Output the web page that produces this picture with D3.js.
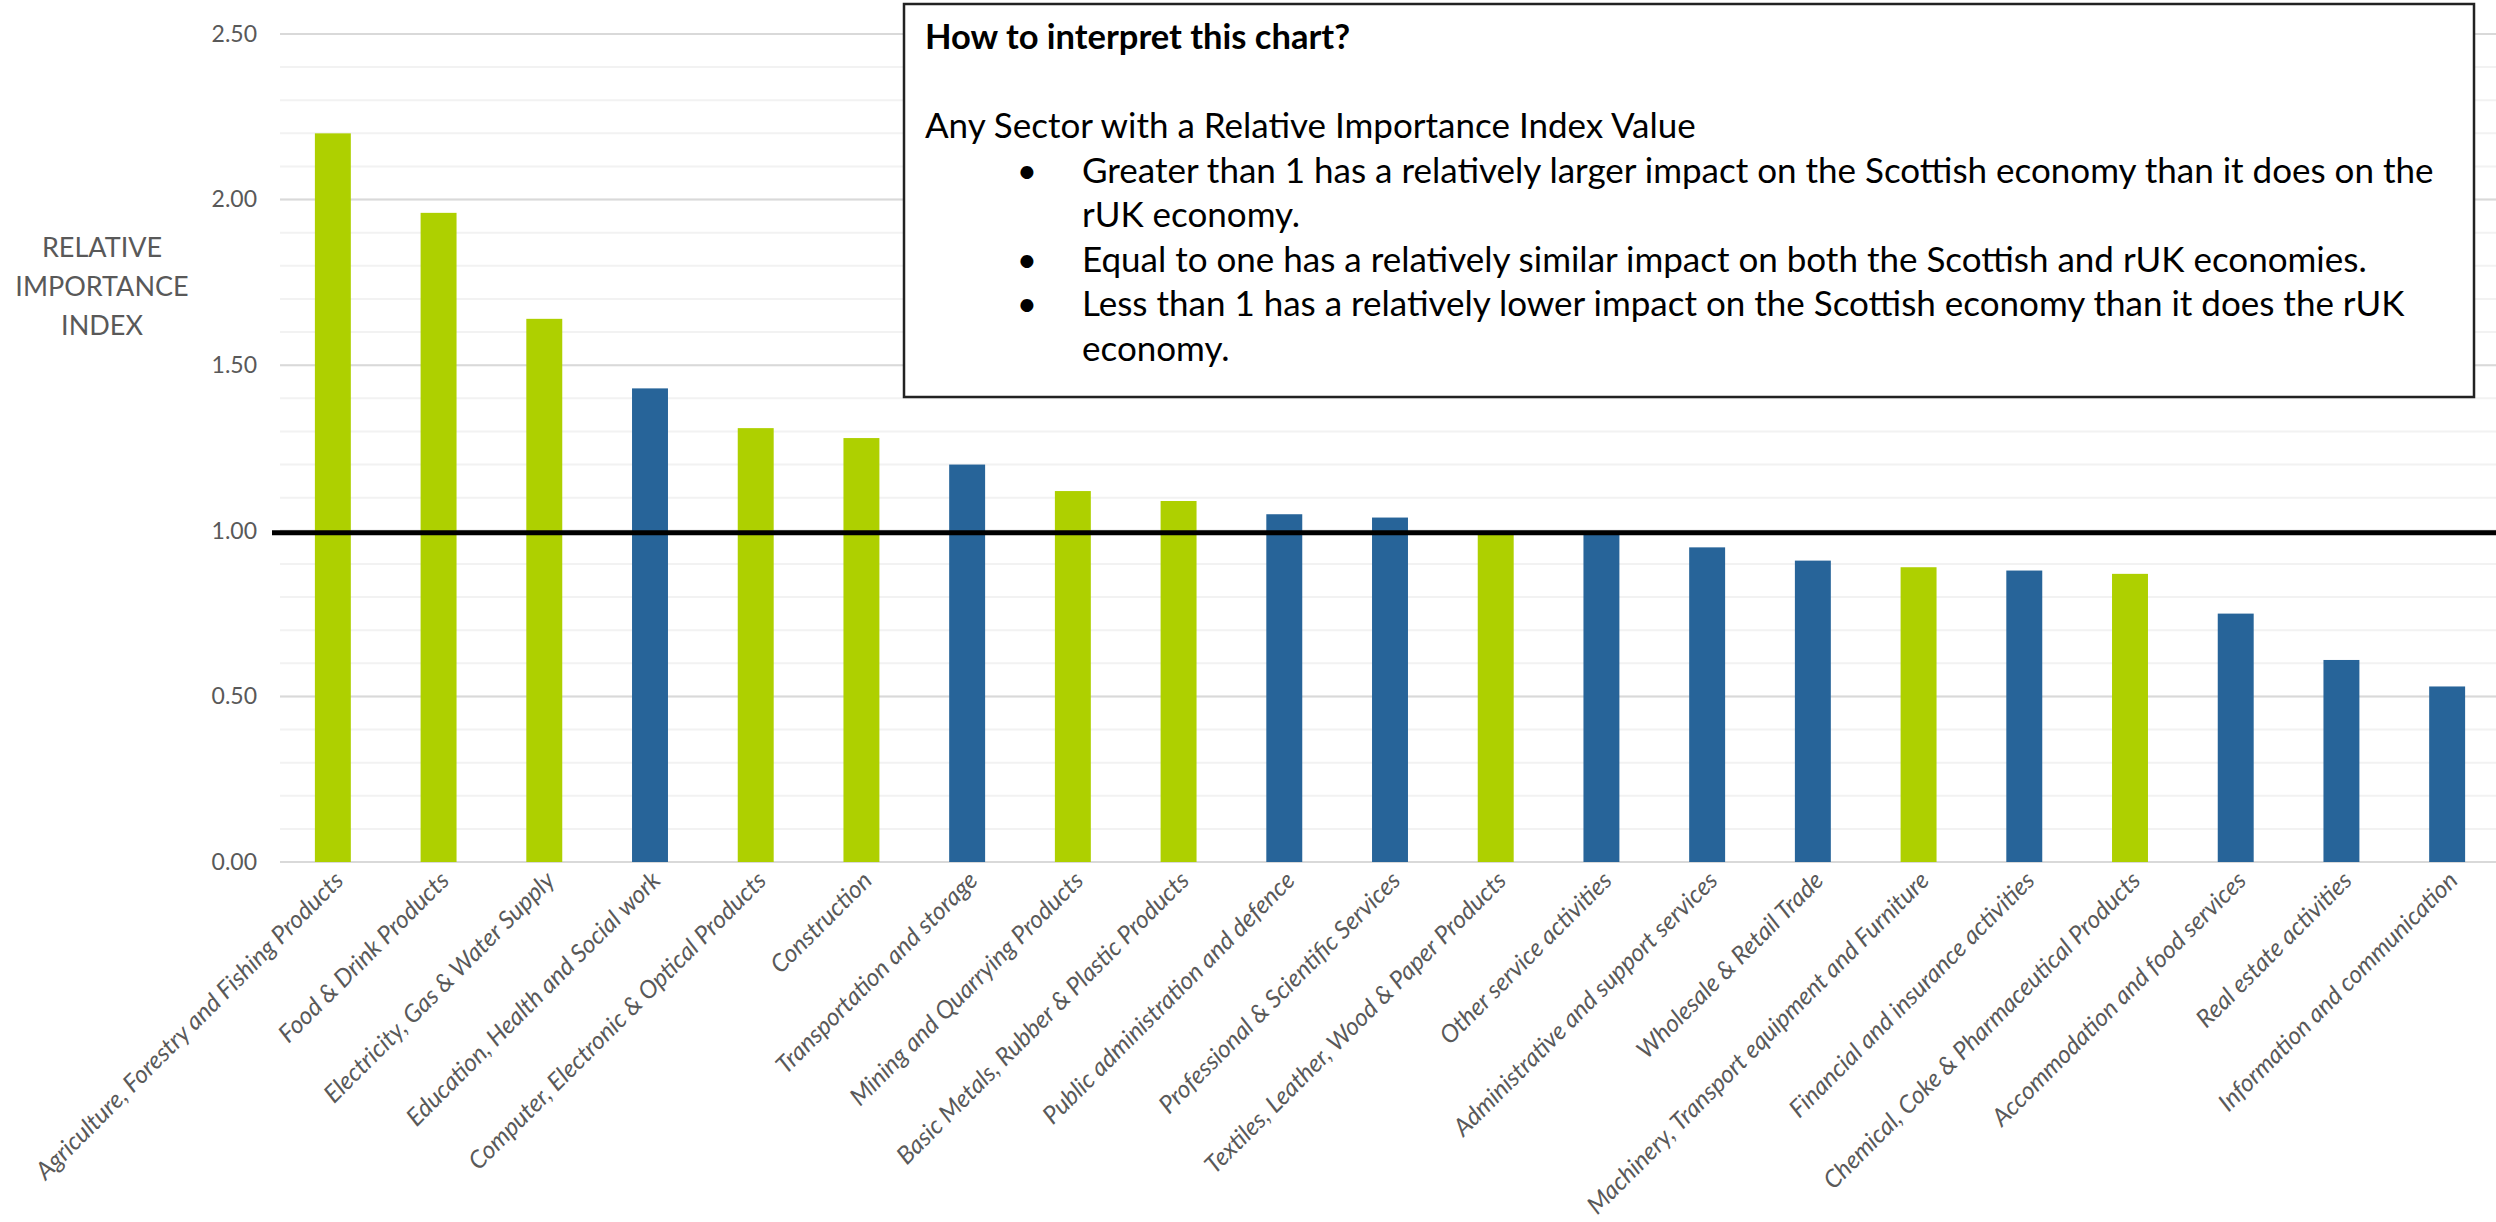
<!DOCTYPE html>
<html>
<head>
<meta charset="utf-8">
<script src="https://cdn.jsdelivr.net/npm/d3@7"></script>
<style>
  body { margin: 0; background: #fff; }
  text { font-family: Lato, "Open Sans", sans-serif; }
</style>
</head>
<body>
<div id="chart"></div>
<script>
// sectors, in the order they are shown
var categories = [
  "Agriculture, Forestry and Fishing Products",
  "Food & Drink Products",
  "Electricity, Gas & Water Supply",
  "Education, Health and Social work",
  "Computer, Electronic & Optical Products",
  "Construction",
  "Transportation and storage",
  "Mining and Quarrying Products",
  "Basic Metals, Rubber & Plastic Products",
  "Public administration and defence",
  "Professional & Scientific Services",
  "Textiles, Leather, Wood & Paper Products",
  "Other service activities",
  "Administrative and support services",
  "Wholesale & Retail Trade",
  "Machinery, Transport equipment and Furniture",
  "Financial and insurance activities",
  "Chemical, Coke & Pharmaceutical Products",
  "Accommodation and food services",
  "Real estate activities",
  "Information and communication"
];

// relative importance index
var values = [2.20, 1.96, 1.64, 1.43, 1.31, 1.28, 1.20, 1.12, 1.09, 1.05, 1.04,
  0.99, 0.99, 0.95, 0.91, 0.89, 0.88, 0.87, 0.75, 0.61, 0.53];

// P = production sector (green), S = service sector (blue)
var sectorType = ["P", "P", "P", "S", "P", "P", "S", "P", "P", "S", "S",
  "P", "S", "S", "S", "P", "S", "P", "S", "S", "S"];

var yTicks = [0, 0.5, 1, 1.5, 2, 2.5];
var referenceValue = 1;

var axisTitle = ["RELATIVE", "IMPORTANCE", "INDEX"];

var noteLines = [
  { text: "How to interpret this chart?", bold: true },
  { text: "" },
  { text: "Any Sector with a Relative Importance Index Value" },
  { text: "Greater than 1 has a relatively larger impact on the Scottish economy than it does on the", bullet: true },
  { text: "rUK economy.", indent: true },
  { text: "Equal to one has a relatively similar impact on both the Scottish and rUK economies.", bullet: true },
  { text: "Less than 1 has a relatively lower impact on the Scottish economy than it does the rUK", bullet: true },
  { text: "economy.", indent: true }
];

/* Generate SVG Element */
var width = 2496;
var height = 1222;

var svg = d3.select("#chart")
  .append("svg")
  .attr("width", width)
  .attr("height", height);

var x = d3.scaleBand()
  .domain(categories)
  .range([280, 2500])
  .paddingInner(0.66)
  .paddingOuter(0.33);

var y = d3.scaleLinear()
  .domain([0, 2.5])
  .range([862, 34]);

var colour = d3.scaleOrdinal()
  .domain(["P", "S"])
  .range(["#aed000", "#276499"]);

// minor gridlines every 0.1
svg.append("g")
  .selectAll("line")
  .data(y.ticks(25))
  .enter()
  .append("line")
  .attr("x1", 280)
  .attr("x2", width)
  .attr("y1", function (d) { return y(d); })
  .attr("y2", function (d) { return y(d); })
  .attr("stroke", "#f2f2f2")
  .attr("stroke-width", 2);

// major gridlines
svg.append("g")
  .selectAll("line")
  .data(yTicks)
  .enter()
  .append("line")
  .attr("x1", 280)
  .attr("x2", width)
  .attr("y1", function (d) { return y(d); })
  .attr("y2", function (d) { return y(d); })
  .attr("stroke", "#d9d9d9")
  .attr("stroke-width", 2);

var yAxis = svg.append("g")
  .attr("transform", "translate(280,0)")
  .call(d3.axisLeft(y).tickValues(yTicks).tickSize(0).tickPadding(23).tickFormat(d3.format(".2f")));
yAxis.select(".domain").remove();
yAxis.selectAll("text")
  .attr("fill", "#595959")
  .style("font-size", "23px");

// bars
svg.append("g")
  .selectAll("rect")
  .data(values)
  .enter()
  .append("rect")
  .attr("x", function (d, i) { return x(categories[i]); })
  .attr("width", x.bandwidth())
  .attr("y", function (d) { return y(d); })
  .attr("height", function (d) { return y(0) - y(d); })
  .attr("fill", function (d, i) { return colour(sectorType[i]); });

// line at index = 1
svg.append("line")
  .attr("x1", 272)
  .attr("x2", width)
  .attr("y1", y(referenceValue) + 2)
  .attr("y2", y(referenceValue) + 2)
  .attr("stroke", "#000")
  .attr("stroke-width", 5);

// category labels
svg.append("g")
  .selectAll("text")
  .data(categories)
  .enter()
  .append("text")
  .attr("transform", function (d) {
    return "translate(" + (x(d) + x.bandwidth() / 2 + 12) + "," + (y(0) + 20) + ") rotate(-45)";
  })
  .attr("text-anchor", "end")
  .attr("fill", "#595959")
  .style("font-size", "24.5px")
  .style("font-style", "italic")
  .text(function (d) { return d; });

// axis title
svg.append("text")
  .attr("text-anchor", "middle")
  .attr("fill", "#595959")
  .style("font-size", "27px")
  .selectAll("tspan")
  .data(axisTitle)
  .enter()
  .append("tspan")
  .attr("x", 102)
  .attr("y", function (d, i) { return 257 + i * 39; })
  .text(function (d) { return d; });

// explanation box
var box = svg.append("g");
box.append("rect")
  .attr("x", 904)
  .attr("y", 4)
  .attr("width", 1570)
  .attr("height", 393)
  .attr("fill", "#fff")
  .attr("stroke", "#222")
  .attr("stroke-width", 2.5);

var lineHeight = 44.5;
noteLines.forEach(function (l, i) {
  var by = 49 + i * lineHeight;
  if (l.bullet) {
    box.append("text")
      .attr("x", 1027)
      .attr("y", by)
      .attr("text-anchor", "middle")
      .style("font-size", "35px")
      .text("\u2022");
  }
  box.append("text")
    .attr("x", (l.bullet || l.indent) ? 1082 : 925)
    .attr("y", by)
    .attr("fill", "#000")
    .style("font-size", l.bold ? "34.5px" : "35px")
    .style("font-weight", l.bold ? "bold" : "normal")
    .text(l.text);
});
</script>
</body>
</html>
